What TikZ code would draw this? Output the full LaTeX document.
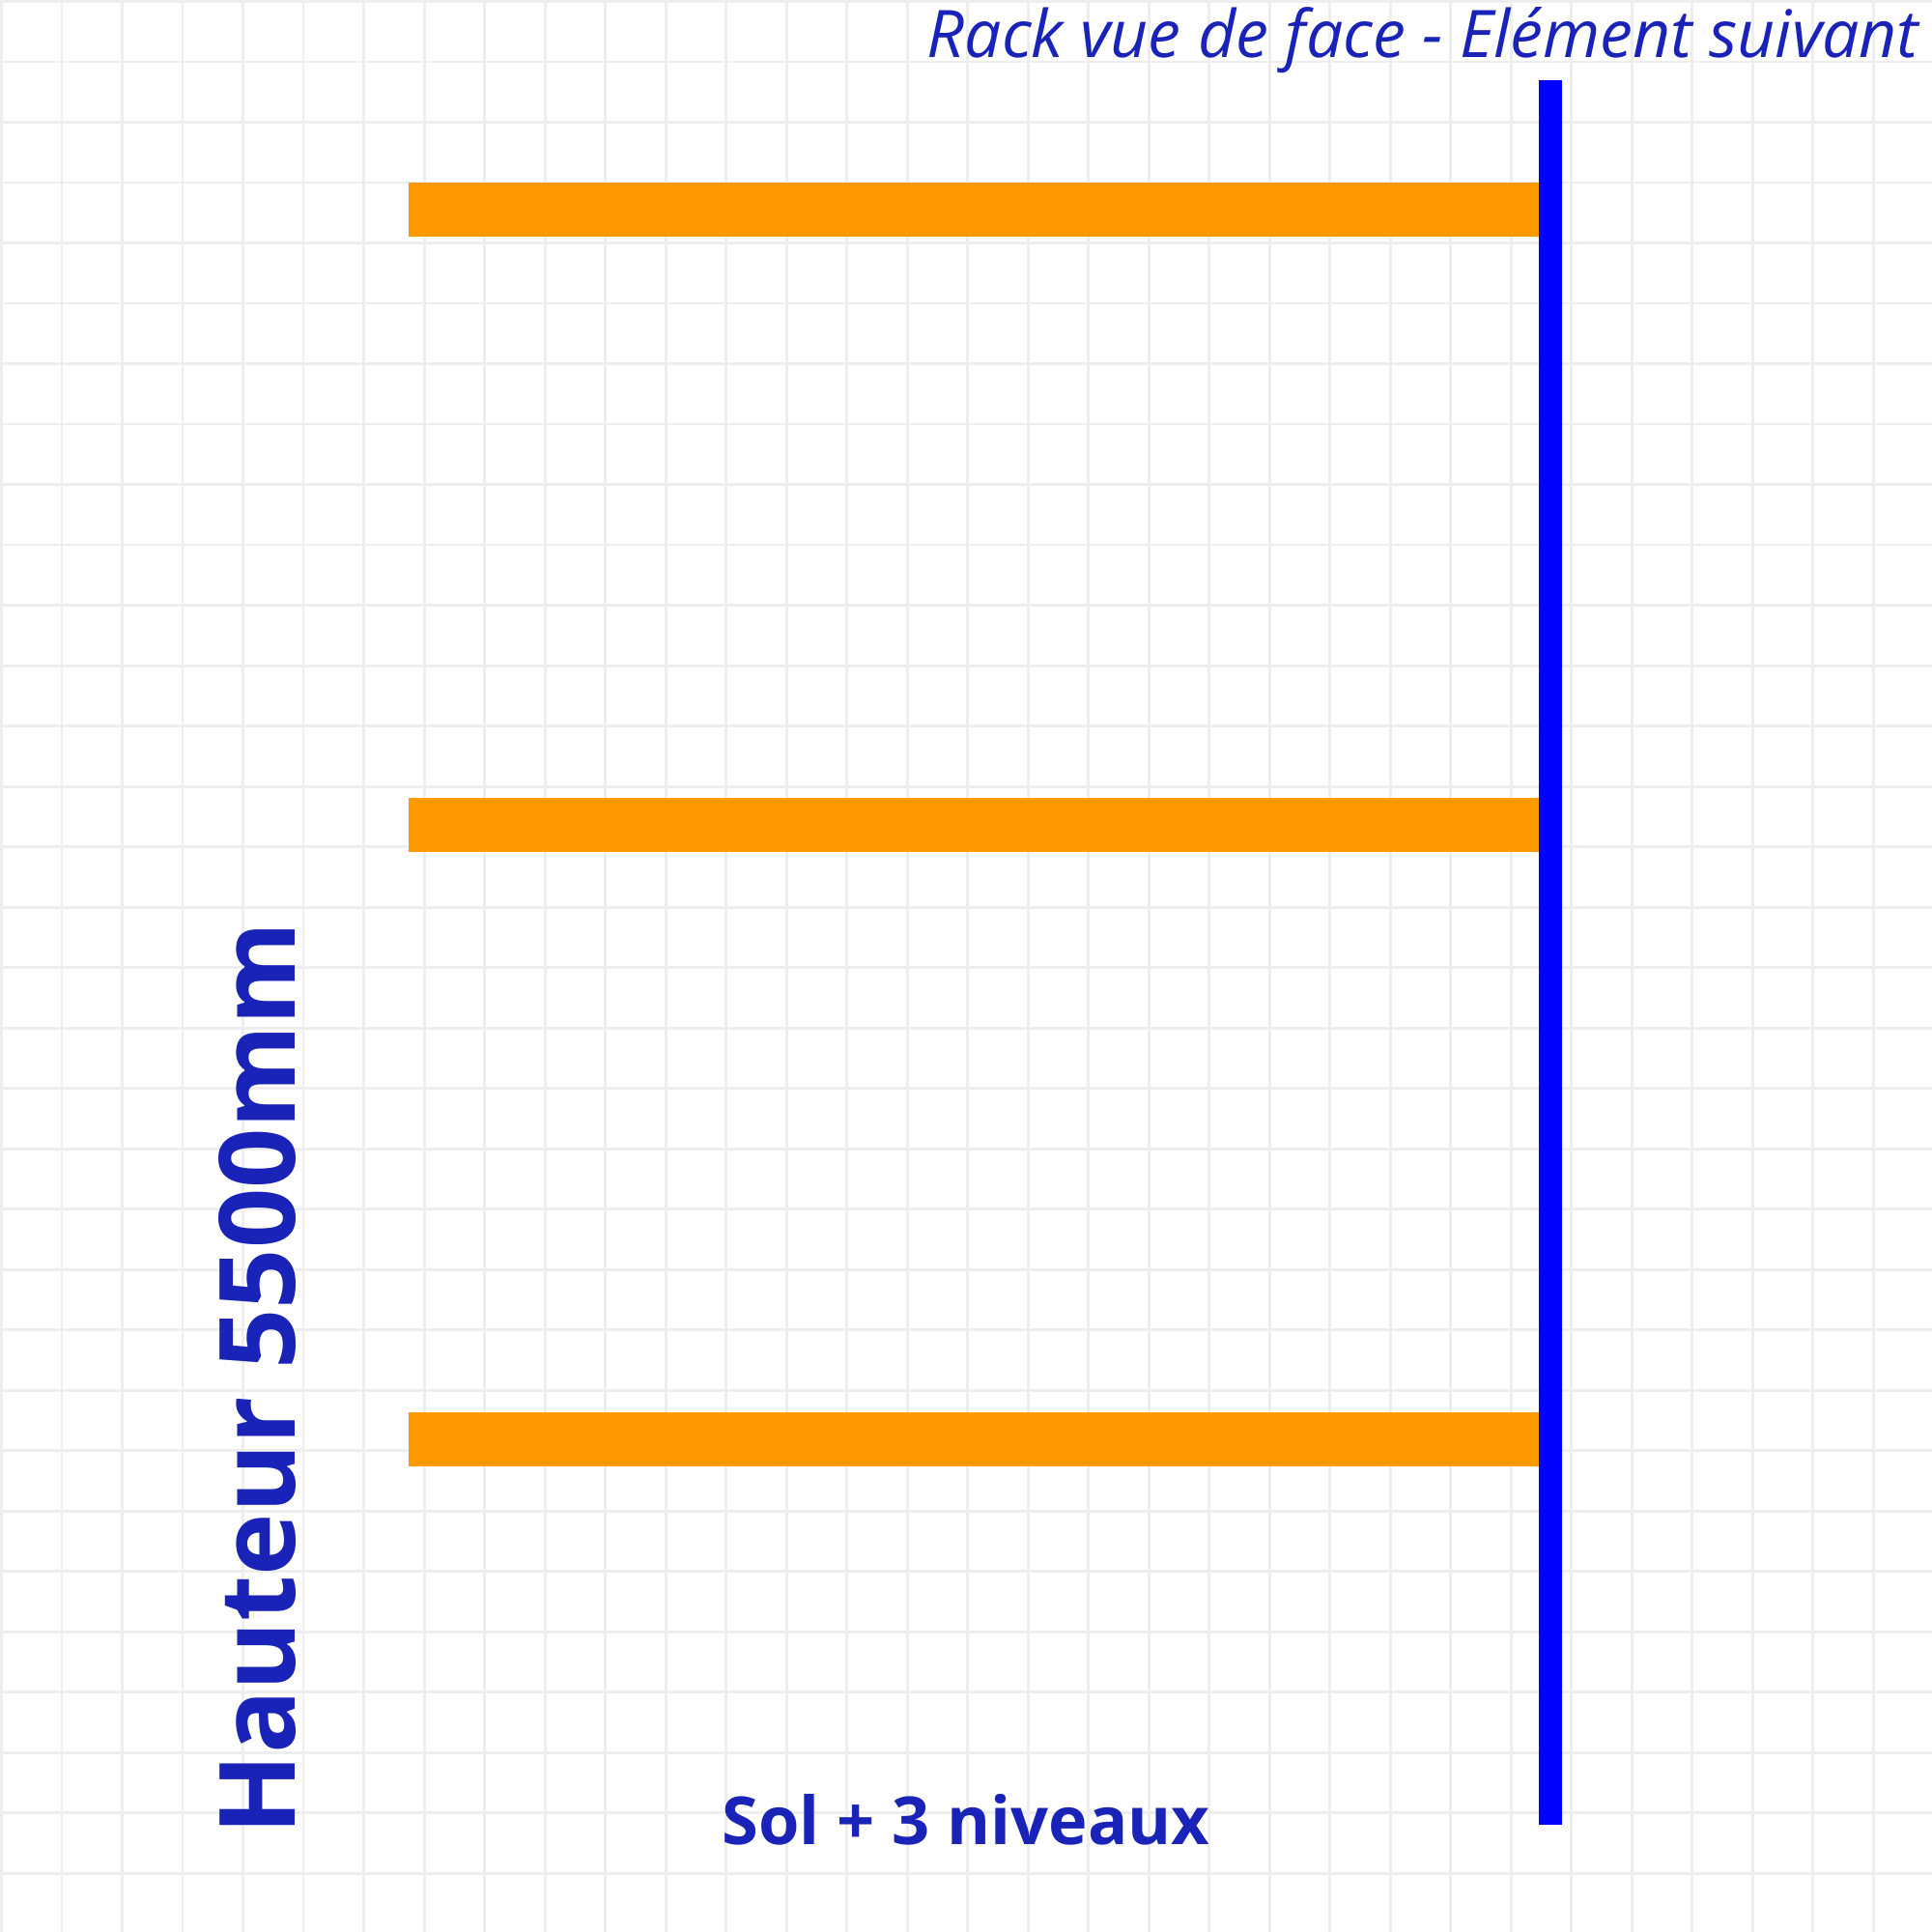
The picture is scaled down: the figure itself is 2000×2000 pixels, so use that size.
\documentclass[tikz,border=0pt]{standalone}
\usepackage{fontspec}
\setmainfont{Open Sans}
\usetikzlibrary{positioning}

\definecolor{gridgray}{RGB}{238,238,238}
\definecolor{beamorange}{RGB}{255,153,0}
\definecolor{uprightblue}{RGB}{0,0,255}
\definecolor{labelblue}{RGB}{26,35,184}

\tikzset{
  gridline/.style={draw=gridgray, line width=0.85pt},
  beam/.style={fill=beamorange},
  upright/.style={fill=uprightblue},
  label text/.style={text=labelblue, inner sep=0pt}
}

\begin{document}
\begin{tikzpicture}[x=0.01cm, y=-0.01cm]
        \useasboundingbox (0,0) rectangle (2000,2000);
        \fill[white] (0,0) rectangle (2000,2000);
        % grid
        \foreach \k in {0,...,32} {
            \draw[gridline] (\k*62.5+1.5,0) -- (\k*62.5+1.5,2000);
            \draw[gridline] (0,\k*62.5+1.5) -- (2000,\k*62.5+1.5);
        }
        % beams
        \foreach \y [count=\i] in {189, 825.5, 1462} {
            \fill[beam] (423,\y) rectangle (1593,\y+56);
        }
        % upright
        \fill[upright] (1593,83) rectangle (1617,1889);
        \node [label text, anchor=base east, font=\itshape\fontsize{19.3}{24}\selectfont] (title) at (1987,60) {Rack vue de face - Elément suivant};
        \node [label text, anchor=base, font=\bfseries\fontsize{19.5}{24}\selectfont] (levels) at (1000,1909) {Sol + 3 niveaux};
        \node [label text, anchor=base west, rotate=90, font=\bfseries\fontsize{31}{38}\selectfont] (height) at (305,1900) {Hauteur 5500mm};
    \end{tikzpicture}
\end{document}
